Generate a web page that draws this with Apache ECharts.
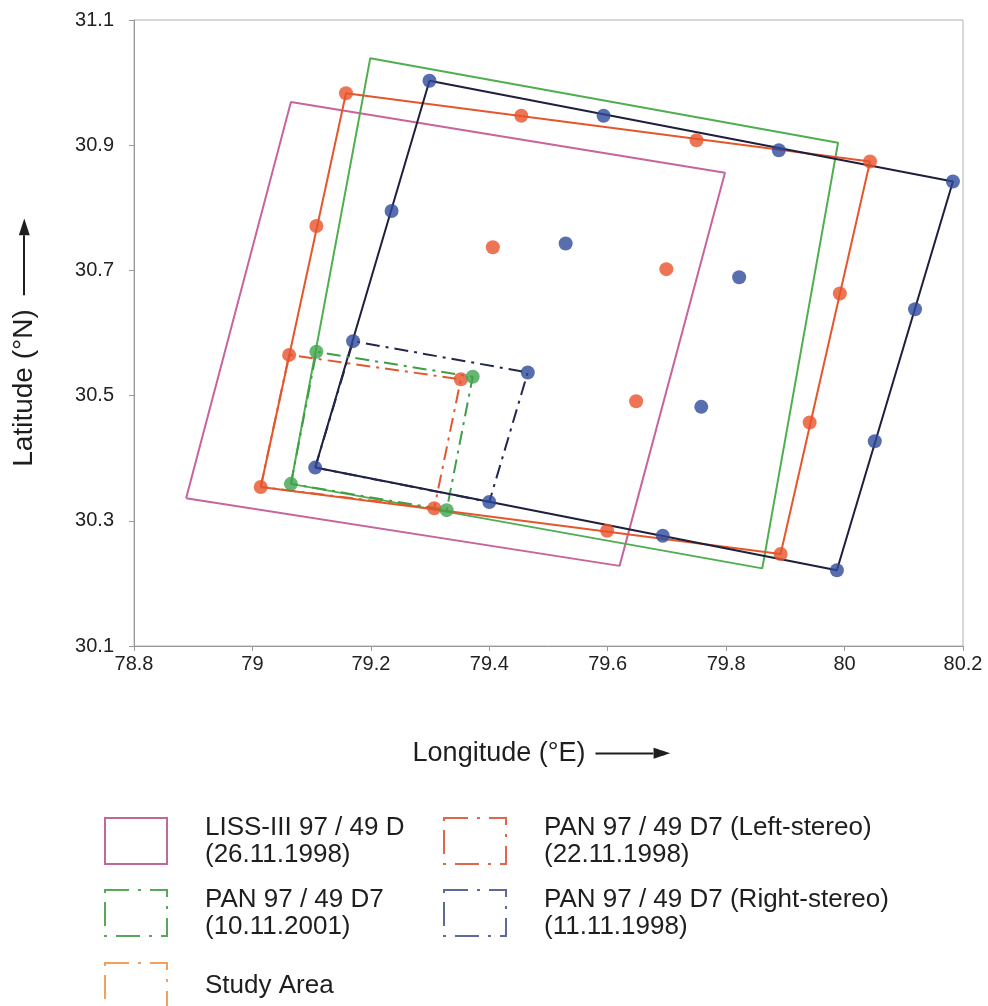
<!DOCTYPE html>
<html>
<head>
<meta charset="utf-8">
<script src="https://cdn.jsdelivr.net/npm/echarts@6/dist/echarts.min.js"></script>
<style>html,body{margin:0;padding:0;background:#fff;}#c{width:988px;height:1006px;}</style>
</head>
<body>
<div id="c"></div>
<script>
// ---- data (longitude °E, latitude °N) ----
var xTicks = [78.8, 79, 79.2, 79.4, 79.6, 79.8, 80, 80.2];
var yTicks = [30.1, 30.3, 30.5, 30.7, 30.9, 31.1];

// LISS-III scene corners (BL, TL, TR, BR)
var lissCorners = [[78.888, 30.336], [79.065, 30.969], [79.798, 30.856], [79.620, 30.228]];

// PAN 2001 full scene corners (BL, TL, TR, BR)
var pan2001Corners = [[79.065, 30.359], [79.199, 31.039], [79.989, 30.904], [79.861, 30.224]];
// PAN 2001 sub-scene (BL, TL, TR, BR)
var pan2001Sub = [[79.065, 30.359], [79.108, 30.570], [79.372, 30.530], [79.328, 30.317]];

// Left-stereo full scene grid points (rows top->bottom)
var leftGrid = [
  [79.158, 30.983], [79.454, 30.947], [79.750, 30.908], [80.043, 30.874],
  [79.108, 30.771], [79.406, 30.737], [79.699, 30.702], [79.992, 30.663],
  [79.062, 30.565], [79.352, 30.526], [79.648, 30.491], [79.941, 30.457],
  [79.014, 30.354], [79.307, 30.320], [79.599, 30.284], [79.892, 30.247]
];
var leftCorners = [[79.014, 30.354], [79.158, 30.983], [80.043, 30.874], [79.892, 30.247]];
var leftSub = [[79.014, 30.354], [79.062, 30.565], [79.352, 30.526], [79.307, 30.320]];

// Right-stereo full scene grid points (rows top->bottom)
var rightGrid = [
  [79.299, 31.003], [79.593, 30.947], [79.889, 30.892], [80.183, 30.842],
  [79.235, 30.795], [79.529, 30.743], [79.822, 30.689], [80.119, 30.638],
  [79.170, 30.587], [79.465, 30.537], [79.758, 30.482], [80.051, 30.427],
  [79.106, 30.385], [79.400, 30.330], [79.693, 30.276], [79.987, 30.221]
];
var rightCorners = [[79.106, 30.385], [79.299, 31.003], [80.183, 30.842], [79.987, 30.221]];
var rightSub = [[79.106, 30.385], [79.170, 30.587], [79.465, 30.537], [79.400, 30.330]];

var studyArea = [];

var nLiss = 'LISS-III 97 / 49 D\n(26.11.1998)';
var nPan = 'PAN 97 / 49 D7\n(10.11.2001)';
var nStudy = 'Study Area';
var nLeft = 'PAN 97 / 49 D7 (Left-stereo)\n(22.11.1998)';
var nRight = 'PAN 97 / 49 D7 (Right-stereo)\n(11.11.1998)';

function closed(p) { return p.length ? p.concat([p[0]]) : []; }

var FONT = "'Liberation Sans', Arial, sans-serif";
var dashDot = [14, 6, 3, 6];
var legDash = [24, 9, 3, 9];
var INK = '#1e1e1e';

function poly(name, pts, color, width, dash, z) {
  return {
    type: 'line', name: name, data: closed(pts), symbol: 'none', showSymbol: false,
    lineStyle: { color: color, width: width, type: dash || 'solid' },
    itemStyle: { color: color }, z: z, silent: true, animation: false
  };
}
function dots(name, pts, color, z) {
  return {
    type: 'scatter', name: name, data: pts, symbol: 'circle', symbolSize: 14,
    itemStyle: { color: color }, z: z, silent: true, animation: false
  };
}
function leg(name, left, top, color, dash) {
  return {
    left: left, top: top, padding: 0, orient: 'horizontal',
    itemWidth: 62, itemHeight: 46, selectedMode: false,
    textStyle: { fontFamily: FONT, fontSize: 26, lineHeight: 27, color: INK, padding: [9, 0, 0, 33] },
    data: [{
      name: name, icon: 'rect',
      itemStyle: { color: 'rgba(0,0,0,0)', borderColor: color, borderWidth: 2, borderType: dash || 'solid' }
    }]
  };
}
function arrowRich(size, gap, len) {
  return {
    t: { fontFamily: FONT, fontSize: size, color: INK },
    g: { width: gap, height: 2 },
    l: { width: len, height: 2, backgroundColor: INK },
    h: { fontFamily: "'DejaVu Sans', sans-serif", fontSize: 22, color: INK }
  };
}

var chart = echarts.init(document.getElementById('c'), null, { renderer: 'canvas' });
chart.setOption({
  backgroundColor: '#fff',
  animation: false,
  grid: { left: 134, right: 25, top: 20, bottom: 360, show: true, borderColor: '#b0b0b0', borderWidth: 1, backgroundColor: '#fff' },
  xAxis: {
    type: 'value', min: 78.8, max: 80.2,
    name: '{t|Longitude (°E)}{g|}{l|}{h|►}', nameLocation: 'middle', nameGap: 94,
    nameTextStyle: { fontFamily: FONT, fontSize: 27, color: INK, padding: [0, 14, 0, 0], rich: arrowRich(27, 10, 58) },
    axisLine: { show: true, lineStyle: { color: '#999', width: 1 } },
    axisTick: { show: true, length: 5, lineStyle: { color: '#999' }, customValues: xTicks },
    axisLabel: { customValues: xTicks, margin: 8, fontFamily: FONT, fontSize: 20, color: '#222',
      formatter: function (v) { return String(Math.round(v * 10) / 10); } },
    splitLine: { show: false }
  },
  yAxis: {
    type: 'value', min: 30.1, max: 31.1,
    name: '{t|Latitude (°N)}{g|}{l|}{h|►}', nameLocation: 'middle', nameGap: 96, nameRotate: 90,
    nameTextStyle: { fontFamily: FONT, fontSize: 28, color: INK, padding: [0, 19, 0, 0], rich: arrowRich(28, 14, 60) },
    axisLine: { show: true, lineStyle: { color: '#999', width: 1 } },
    axisTick: { show: true, length: 5, lineStyle: { color: '#999' }, customValues: yTicks },
    axisLabel: { customValues: yTicks, margin: 20, fontFamily: FONT, fontSize: 20, color: '#222',
      formatter: function (v) { return v.toFixed(1); } },
    splitLine: { show: false }
  },
  legend: [
    leg(nLiss, 104, 809.5, '#c2679a'),
    leg(nPan, 104, 881.5, '#5aa65a', legDash),
    leg(nStudy, 104, 962, '#f0a060', legDash),
    leg(nLeft, 443, 809.5, '#e0684a', legDash),
    leg(nRight, 443, 881.5, '#5b6a98', legDash)
  ],
  series: [
    poly(nLiss, lissCorners, '#c8649c', 2, null, 2),
    poly('pan2001Scene', pan2001Corners, '#4fae4f', 2, null, 3),
    poly('leftScene', leftCorners, '#e4572e', 2, null, 4),
    poly('rightScene', rightCorners, '#1d1f3c', 2, null, 5),
    poly(nStudy, studyArea, '#f0a060', 2, dashDot, 5),
    poly(nLeft, leftSub, '#e4572e', 2, dashDot, 6),
    poly(nPan, pan2001Sub, '#3f9e46', 2, dashDot, 6),
    poly(nRight, rightSub, '#23264d', 2, dashDot, 6),
    dots('leftPts', leftGrid, '#e8522a', 8),
    dots('rightPts', rightGrid, '#2e4a9b', 8),
    dots('panPts', pan2001Sub, '#3da44d', 8)
  ]
});
</script>
</body>
</html>
